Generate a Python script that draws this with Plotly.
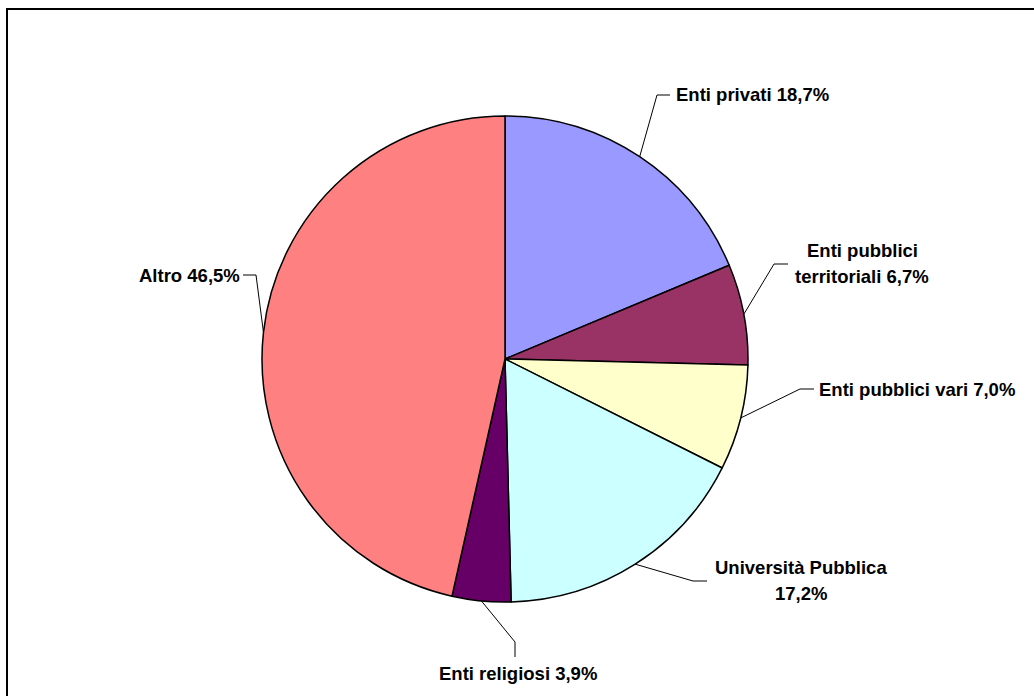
import math
import plotly.graph_objects as go

# ---- data ----
categories = ["Enti privati", "Enti pubblici territoriali", "Enti pubblici vari",
              "Università Pubblica", "Enti religiosi", "Altro"]
values = [18.7, 6.7, 7.0, 17.2, 3.9, 46.5]
label_templates = ["Enti privati {p}", "Enti pubblici<br>territoriali {p}",
                   "Enti pubblici vari {p}", "Università Pubblica<br>{p}",
                   "Enti religiosi {p}", "Altro {p}"]

# ---- style / layout ----
colors = ["#9999FF", "#993366", "#FFFFCC", "#CCFFFF", "#660066", "#FF8080"]
W, H = 1034, 696
CX, CY, R = 505, 359, 243          # pie geometry in pixels
FONT = dict(family="Liberation Sans, Arial, sans-serif", size=18.5, color="black")
LINE_GAP = 26
# label layout: elbow point, stub end, text anchor, text anchor side
label_layout = [
    dict(elbow=(657, 95), stub=(670, 95), text=(674, 95), xanchor="left"),
    dict(elbow=(774, 264), stub=(788, 264), text=(862, 250), xanchor="center"),
    dict(elbow=(800, 389), stub=(814, 389), text=(817, 389), xanchor="left"),
    dict(elbow=(693, 581), stub=(707, 581), text=(801, 567), xanchor="center"),
    dict(elbow=(515, 642), stub=(515, 657), text=(518, 673), xanchor="center"),
    dict(elbow=(256, 275), stub=(243, 275), text=(242, 275), xanchor="right"),
]


def px(x):
    return x / W


def py(y):
    return 1 - y / H


fig = go.Figure(go.Pie(
    labels=categories, values=values, sort=False, direction="clockwise",
    rotation=0, textinfo="none", hoverinfo="label+percent",
    marker=dict(colors=colors, line=dict(color="black", width=1.5)),
    domain=dict(x=[px(CX - R), px(CX + R)], y=[py(CY + R), py(CY - R)]),
    showlegend=False,
))

total = sum(values)
shapes = []
annotations = []
cum = 0.0
for v, tmpl, lay in zip(values, label_templates, label_layout):
    mid = (cum + v / 2) / total * 2 * math.pi
    cum += v
    sx = CX + R * math.sin(mid)
    sy = CY - R * math.cos(mid)
    ex, ey = lay["elbow"]
    tx, ty = lay["stub"]
    shapes.append(dict(type="path", xref="paper", yref="paper",
                       path=f"M {px(sx)},{py(sy)} L {px(ex)},{py(ey)} L {px(tx)},{py(ty)}",
                       line=dict(color="black", width=1)))
    pct = f"{v:.1f}".replace(".", ",") + "%"
    lines = tmpl.format(p=pct).split("<br>")
    ax, ay = lay["text"]
    for i, ln in enumerate(lines):
        annotations.append(dict(x=px(ax), y=py(ay + i * LINE_GAP), xref="paper", yref="paper",
                                text=f"<b>{ln}</b>", showarrow=False,
                                xanchor=lay["xanchor"], yanchor="middle", font=FONT))

# chart area border (right and bottom edges fall outside the image)
shapes.append(dict(type="rect", xref="paper", yref="paper",
                   x0=px(7), y0=py(9), x1=px(W + 20), y1=py(H + 20),
                   line=dict(color="black", width=2), fillcolor="rgba(0,0,0,0)"))

fig.update_layout(width=W, height=H, autosize=False,
                  margin=dict(l=0, r=0, t=0, b=0),
                  paper_bgcolor="white", plot_bgcolor="white",
                  shapes=shapes, annotations=annotations)

fig.write_html("out.html", config={"displayModeBar": False},
               post_script="document.body.style.margin='0';")
